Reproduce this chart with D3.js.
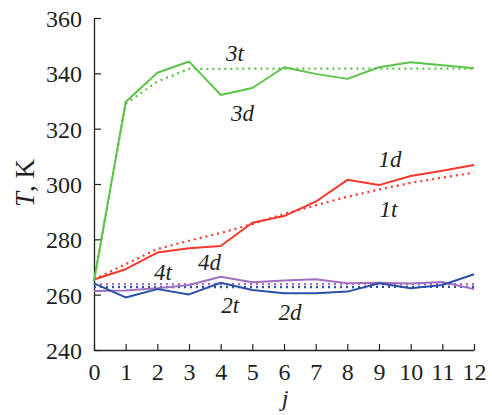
<!DOCTYPE html>
<html>
<head>
<meta charset="utf-8">
<script src="https://d3js.org/d3.v7.min.js"></script>
<style>
body { margin: 0; background: #fff; }
text { font-family: "Liberation Serif", "Times New Roman", serif; fill: #231f20; }
</style>
</head>
<body>
<svg id="chart" width="492" height="415"></svg>
<script>
// iteration number j
var steps = [0, 1, 2, 3, 4, 5, 6, 7, 8, 9, 10, 11, 12];
var yTicks = [240, 260, 280, 300, 320, 340, 360];

// d = measured (solid), t = theory (dotted)
var s1d = [265.5, 269.2, 275.2, 276.8, 277.6, 286.0, 288.4, 293.6, 301.5, 299.6, 302.9, 304.8, 306.9];
var s1t = [265.5, 271.0, 276.5, 279.5, 282.3, 285.5, 289.2, 292.3, 295.4, 298.0, 300.4, 302.3, 304.1];
var s2d = [264.1, 259.0, 262.0, 260.1, 264.3, 261.7, 260.5, 260.5, 261.1, 264.1, 262.3, 263.5, 267.4];
var s2t = [262.8, 262.7, 262.7, 262.7, 262.7, 262.7, 262.7, 262.7, 262.7, 262.8, 262.8, 262.8, 262.8];
var s3d = [265.0, 329.6, 340.2, 344.3, 332.2, 334.7, 342.2, 339.8, 338.0, 342.2, 344.0, 342.9, 341.8];
var s3t = [265.0, 329.0, 337.0, 341.6, 341.6, 341.7, 341.7, 341.7, 341.7, 341.7, 341.7, 341.7, 341.7];
var s4d = [261.3, 261.5, 262.3, 263.5, 266.5, 264.5, 265.1, 265.6, 264.1, 264.3, 264.0, 264.6, 262.0];
var s4t = [263.8, 263.8, 263.8, 263.8, 263.8, 263.8, 263.8, 263.8, 263.8, 263.8, 263.8, 263.8, 263.8];

var series = [
  { values: s1t, color: "#f5382a", dotted: true },
  { values: s2t, color: "#2c4fa8", dotted: true },
  { values: s3t, color: "#5cc24a", dotted: true },
  { values: s4t, color: "#a070c0", dotted: true },
  { values: s4d, color: "#a070c0", dotted: false },
  { values: s2d, color: "#2c4fa8", dotted: false },
  { values: s1d, color: "#f5382a", dotted: false },
  { values: s3d, color: "#5cc24a", dotted: false }
];

var labels = [
  { text: "3t", j: 4.45, T: 344.4 },
  { text: "3d", j: 4.69, T: 322.8 },
  { text: "1d", j: 9.35, T: 306.1 },
  { text: "1t", j: 9.3, T: 288.1 },
  { text: "4d", j: 3.65, T: 268.9 },
  { text: "4t", j: 2.18, T: 265.3 },
  { text: "2t", j: 4.3, T: 253.4 },
  { text: "2d", j: 6.19, T: 250.9 }
];

var svg = d3.select("#chart");
var mLeft = 94, mRight = 474, mTop = 18, mBottom = 350;

var x = d3.scaleLinear().domain([0, 12]).range([mLeft, mRight]);
var y = d3.scaleLinear().domain([240, 360]).range([mBottom, mTop]);

// axes, ticks pointing inward
var xAxis = svg.append("g")
  .attr("transform", "translate(0," + mBottom + ")")
  .call(d3.axisBottom(x).tickValues(steps).tickSizeInner(-6).tickSizeOuter(0).tickPadding(13));
var yAxis = svg.append("g")
  .attr("transform", "translate(" + mLeft + ",0)")
  .call(d3.axisLeft(y).tickValues(yTicks).tickSizeInner(-7).tickSizeOuter(0).tickPadding(12));

[xAxis, yAxis].forEach(function(a) {
  a.select(".domain").attr("stroke", "#231f20").attr("stroke-width", 1.3);
  a.selectAll(".tick line").attr("stroke", "#231f20").attr("stroke-width", 1.2);
  a.selectAll(".tick text")
    .style("font-size", "24px")
    .attr("fill", "#231f20");
});
yAxis.selectAll(".tick text").attr("dy", "0.36em");
xAxis.selectAll(".tick text").attr("dy", "0.71em");

var line = d3.line()
  .x(function(d, i) { return x(steps[i]); })
  .y(function(d) { return y(d); });

svg.selectAll(".series")
  .data(series)
  .enter().append("path")
  .attr("class", "series")
  .attr("d", function(d) { return line(d.values); })
  .attr("fill", "none")
  .attr("stroke", function(d) { return d.color; })
  .attr("stroke-width", function(d) { return d.dotted ? 2.2 : 2; })
  .attr("stroke-dasharray", function(d) { return d.dotted ? "2,4" : null; })
  .attr("stroke-linejoin", "round");

svg.selectAll(".lbl")
  .data(labels)
  .enter().append("text")
  .attr("class", "lbl")
  .attr("x", function(d) { return x(d.j); })
  .attr("y", function(d) { return y(d.T); })
  .attr("text-anchor", "middle")
  .style("font-style", "italic")
  .style("font-size", "23px")
  .text(function(d) { return d.text; });

// axis titles
svg.append("text")
  .attr("transform", "translate(34,183) rotate(-90)")
  .attr("text-anchor", "middle")
  .style("font-size", "27px")
  .html("<tspan font-style='italic'>T</tspan>, K");

svg.append("text")
  .attr("x", 285)
  .attr("y", 406)
  .attr("text-anchor", "middle")
  .style("font-style", "italic")
  .style("font-size", "24px")
  .text("j");
</script>
</body>
</html>
